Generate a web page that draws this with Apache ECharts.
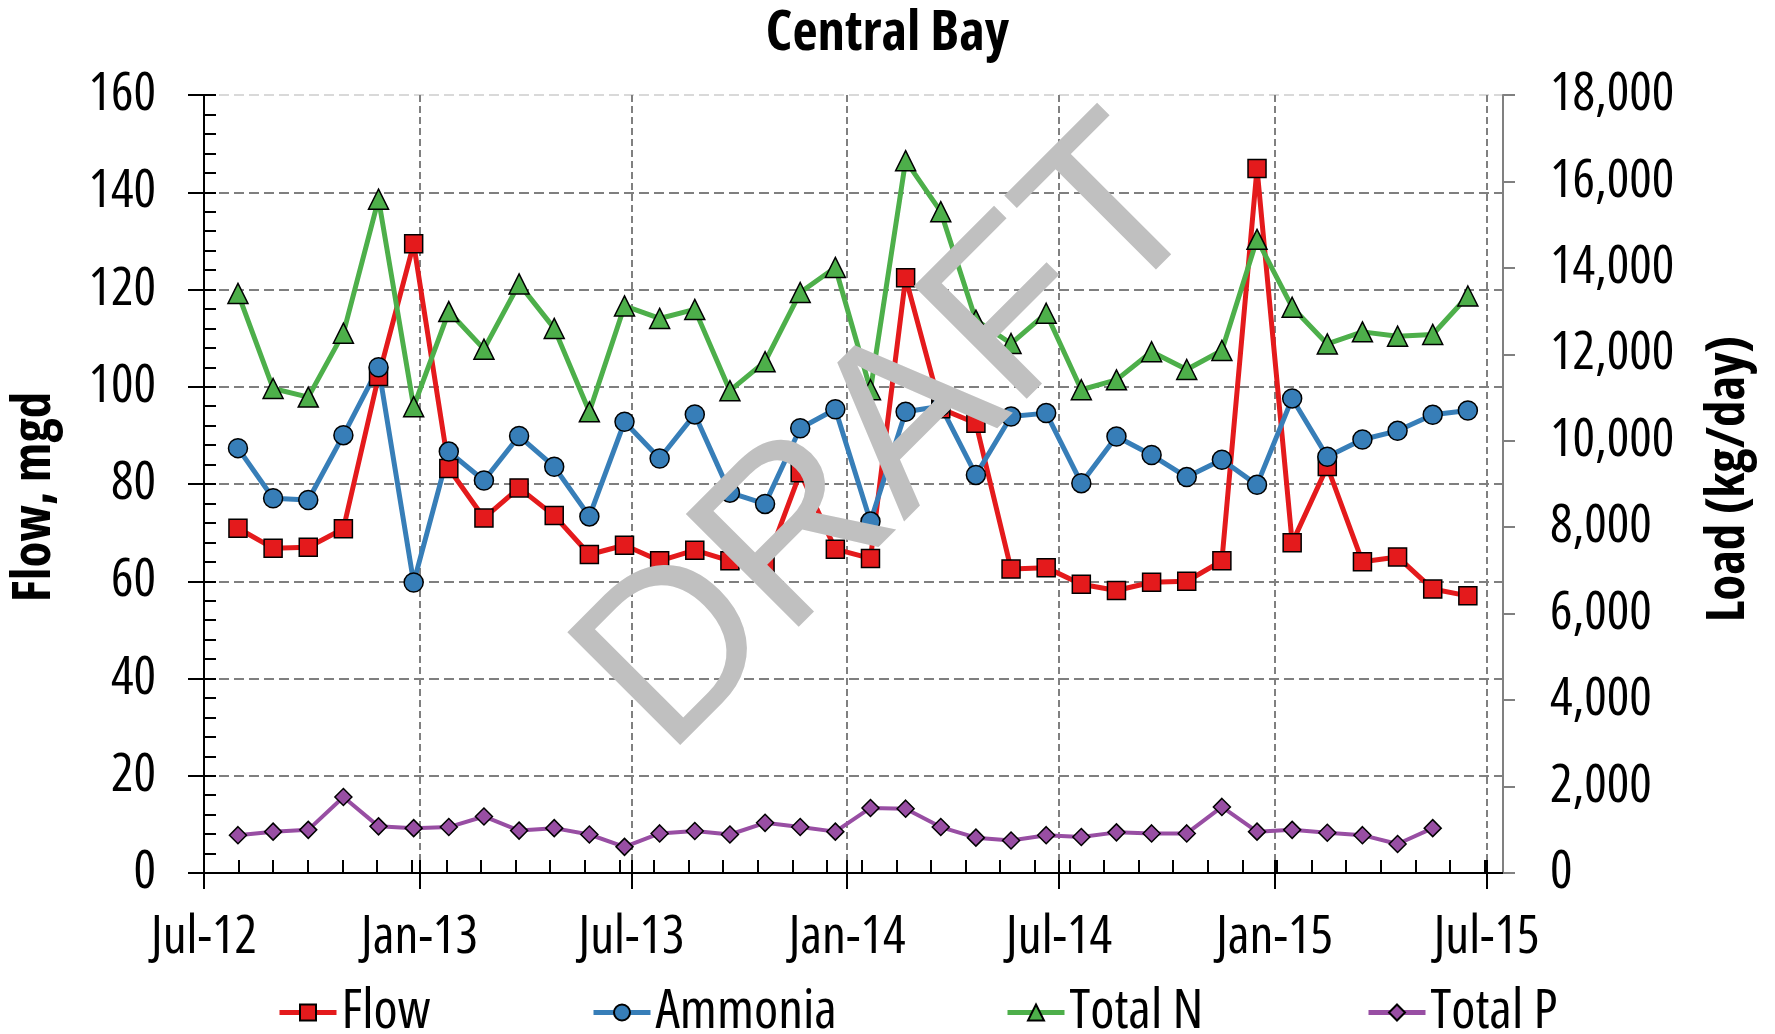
<!DOCTYPE html>
<html><head><meta charset="utf-8">
<script src="https://cdn.jsdelivr.net/npm/echarts@6/dist/echarts.min.js"></script>
<style>html,body{margin:0;padding:0;background:#fff}#c{width:1775px;height:1034px}</style>
</head><body><div id="c"></div>
<script>
// ---- data ----
const dates = ['2012-07-30','2012-08-29','2012-09-28','2012-10-28','2012-11-27','2012-12-27',
  '2013-01-26','2013-02-25','2013-03-27','2013-04-26','2013-05-26','2013-06-25',
  '2013-07-25','2013-08-24','2013-09-23','2013-10-23','2013-11-22','2013-12-22',
  '2014-01-21','2014-02-20','2014-03-22','2014-04-21','2014-05-21','2014-06-20',
  '2014-07-20','2014-08-19','2014-09-18','2014-10-18','2014-11-17','2014-12-17',
  '2015-01-16','2015-02-15','2015-03-17','2015-04-16','2015-05-16','2015-06-15'];
const flow = [70.9, 66.8, 67.0, 70.8, 102.1, 129.4, 83.2, 73.0, 79.2, 73.5, 65.5, 67.4,
  64.2, 66.4, 64.2, 63.0, 82.3, 66.6, 64.7, 122.4, 95.5, 92.5, 62.5, 62.8,
  59.4, 58.1, 59.8, 60.0, 64.2, 144.9, 67.9, 83.6, 64.0, 65.0, 58.4, 57.0];
const ammonia = [9830, 8670, 8630, 10130, 11700, 6720, 9750, 9080, 10110, 9400, 8250, 10440,
  9590, 10610, 8800, 8540, 10290, 10730, 8130, 10670, 10800, 9210, 10560, 10640,
  9020, 10100, 9670, 9160, 9560, 8980, 10980, 9630, 10030, 10230, 10600, 10700];
const totalN = [13410, 11210, 11010, 12490, 15590, 10790, 12990, 12120, 13630, 12600, 10670, 13120,
  12830, 13040, 11160, 11830, 13430, 14010, 11180, 16480, 15300, 12790, 12250, 12950,
  11180, 11410, 12060, 11650, 12090, 14660, 13090, 12240, 12520, 12420, 12460, 13350];
const totalP = [875, 957, 998, 1758, 1079, 1038, 1063, 1308, 981, 1038, 891, 605,
  916, 973, 891, 1161, 1063, 957, 1505, 1488, 1063, 818, 752, 875,
  834, 940, 916, 916, 1529, 957, 998, 932, 875, 671, 1038, null];
const majorTickDates = ['2012-07-01','2013-01-01','2013-07-01','2014-01-01','2014-07-01','2015-01-01','2015-07-01'];
const seriesNames = ['Flow', 'Ammonia', 'Total N', 'Total P'];
const xMinDate = '2012-07-01', xMaxDate = '2015-07-15';

// ---- helpers ----
const MONTHS = ['Jan','Feb','Mar','Apr','May','Jun','Jul','Aug','Sep','Oct','Nov','Dec'];
const ts = s => { const p = s.split('-').map(Number); return new Date(p[0], p[1]-1, p[2]).getTime(); };
const xMin = ts(xMinDate), xMax = ts(xMaxDate);
const majors = majorTickDates.map(ts);
const minors = [];
for (let i = 1; i < 38; i++) minors.push(xMin + Math.round(i * 29.55 * 86400000));
const insideX = majors.concat(minors).sort((a, b) => a - b);
const pair = arr => dates.map((d, i) => [ts(d), arr[i]]);
const FONT = "'Open Sans', 'Liberation Sans', Arial, sans-serif";
const ST = 'condensed';
const fmtDate = v => { const d = new Date(v + 43200000); return MONTHS[d.getMonth()] + '-' + String(d.getFullYear()).slice(2); };
const fmtThousands = v => String(v).replace(/\B(?=(\d{3})+(?!\d))/g, ',');

const colors = ['#E41A1C', '#377EB8', '#4DAF4A', '#984EA3'];
const symbols = ['rect', 'circle', 'triangle', 'diamond'];
const sizes = [18, 19, 20, 17];
const legendLeft = [277, 591, 1005, 1366];
const values = [flow, ammonia, totalN, totalP];
const FS = 53;
const txt = (size, weight) => ({fontFamily: FONT, fontStyle: ST, fontSize: size, fontWeight: weight || 'normal', color: '#000'});

const chart = echarts.init(document.getElementById('c'), null, {renderer: 'canvas'});
chart.setOption({
  animation: false,
  backgroundColor: '#fff',
  textStyle: {fontFamily: FONT, color: '#000'},
  title: {
    text: 'Central Bay', left: 'center', top: 2,
    textStyle: txt(55, 'bold')
  },
  grid: {left: 203, right: 272, top: 95, bottom: 161, containLabel: false},
  legend: seriesNames.map((name, i) => ({
    data: [name], left: legendLeft[i], top: 985, padding: 0, itemWidth: 57, itemHeight: 20, itemGap: 0,
    lineStyle: {width: 5},
    textStyle: txt(55)
  })),
  xAxis: [{
    type: 'value', min: xMin, max: xMax, position: 'bottom', offset: 0, scale: true,
    axisLine: {show: true, onZero: false, lineStyle: {color: '#000', width: 2}},
    axisTick: {show: true, inside: false, length: 16, customValues: majors, lineStyle: {color: '#000', width: 2}},
    axisLabel: Object.assign({show: true, customValues: majors, formatter: fmtDate, margin: 38,
      showMinLabel: true, showMaxLabel: true}, txt(FS)),
    splitLine: {show: true, lineStyle: {color: '#808080', width: 2, type: [7, 4]}}
  }, {
    type: 'value', min: xMin, max: xMax, position: 'bottom', offset: 0, scale: true,
    axisLine: {show: false, onZero: false},
    axisTick: {show: true, inside: true, length: 13, customValues: insideX, lineStyle: {color: '#000', width: 2}},
    axisLabel: {show: false},
    splitLine: {show: false}
  }],
  yAxis: [{
    type: 'value', min: 0, max: 160, interval: 20, position: 'left', offset: 0,
    name: 'Flow, mgd', nameLocation: 'middle', nameRotate: 90, nameGap: 143,
    nameTextStyle: Object.assign(txt(53, 'bold'), {padding: [0, 26, 0, 0]}),
    axisLine: {show: true, onZero: false, lineStyle: {color: '#000', width: 2}},
    axisTick: {show: true, inside: false, length: 16, lineStyle: {color: '#000', width: 2}},
    axisLabel: Object.assign({margin: 48}, txt(FS)),
    splitLine: {show: true, lineStyle: {color: ['#7F7F7F','#7F7F7F','#7F7F7F','#7F7F7F','#7F7F7F','#7F7F7F','#7F7F7F','#7F7F7F','#D9D9D9'], width: 2, type: [10, 5]}}
  }, {
    type: 'value', min: 0, max: 18000, interval: 2000, position: 'right', offset: 0,
    name: 'Load (kg/day)', nameLocation: 'middle', nameRotate: 90, nameGap: 199,
    nameTextStyle: Object.assign(txt(53, 'bold'), {padding: [0, 0, 0, 10]}),
    axisLine: {show: true, onZero: false, lineStyle: {color: '#808080', width: 2}},
    axisTick: {show: true, inside: false, length: 12, lineStyle: {color: '#808080', width: 2}},
    axisLabel: Object.assign({margin: 47, formatter: fmtThousands}, txt(FS)),
    splitLine: {show: false}
  }, {
    type: 'value', min: 0, max: 160, interval: 4, position: 'left', offset: 0,
    axisLine: {show: false, onZero: false},
    axisTick: {show: true, inside: true, length: 12, lineStyle: {color: '#000', width: 2}},
    axisLabel: {show: false},
    splitLine: {show: false}
  }],
  series: seriesNames.map((name, i) => ({
    name, type: 'line', xAxisIndex: 0, yAxisIndex: i === 0 ? 0 : 1,
    data: pair(values[i]),
    symbol: symbols[i], symbolSize: sizes[i], showSymbol: true, showAllSymbol: true,
    connectNulls: false,
    lineStyle: {color: colors[i], width: i === 3 ? 4 : 5},
    itemStyle: {color: colors[i], borderColor: '#000', borderWidth: 1.5},
    emphasis: {disabled: true}
  })),
  graphic: [{
    type: 'text', x: 895, y: 440, rotation: Math.PI / 4, z: 100,
    style: {text: 'DRAFT', font: "232px 'Liberation Sans', Arial, sans-serif", fill: '#C0C0C0',
      textAlign: 'center', textVerticalAlign: 'middle'}
  }]
});
</script></body></html>
